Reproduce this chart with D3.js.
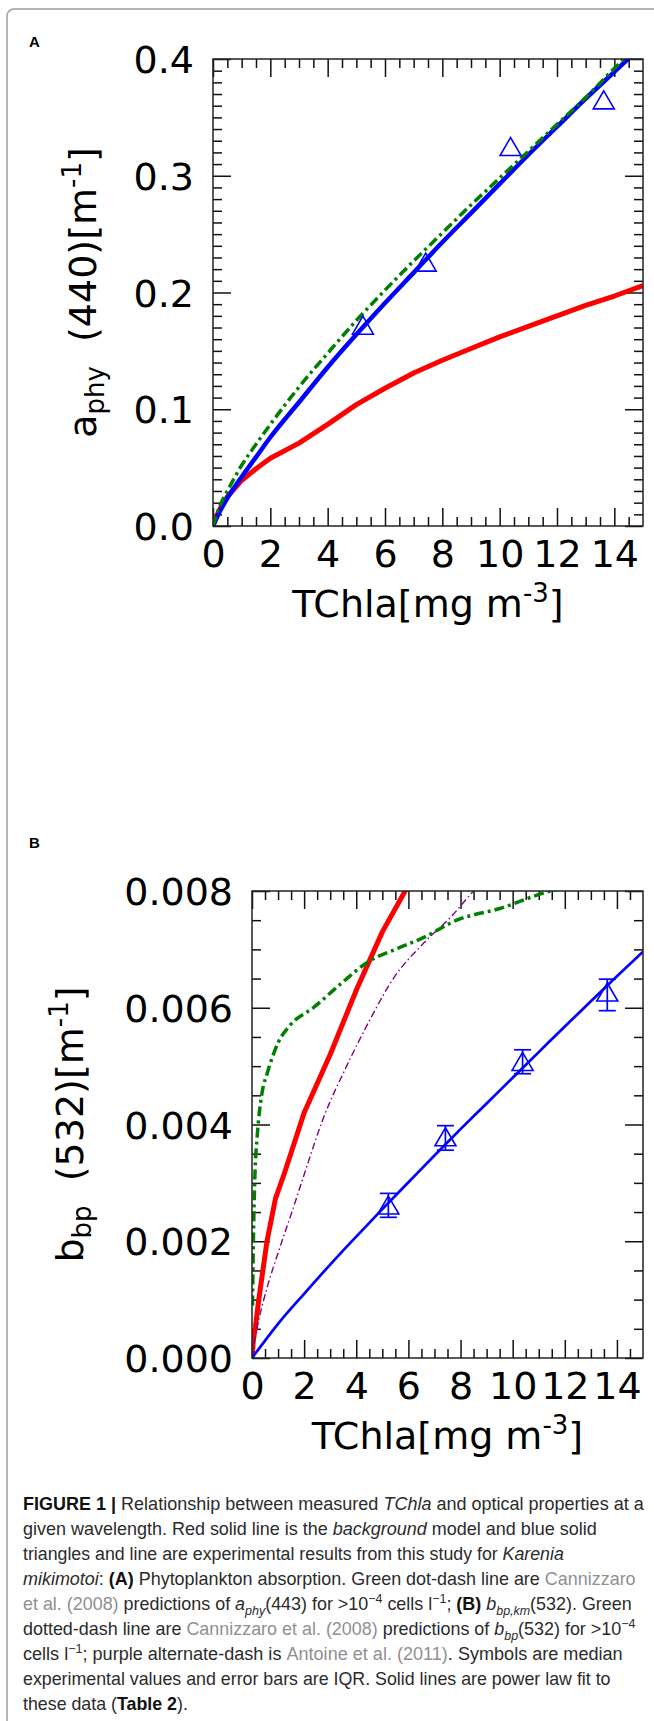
<!DOCTYPE html>
<html>
<head>
<meta charset="utf-8">
<script src="https://cdn.jsdelivr.net/npm/d3@7"></script>
<style>
  body { margin: 0; background: #fff; }
  svg { display: block; }
  text { white-space: pre; }
</style>
</head>
<body>
<svg id="fig" width="654" height="1721"></svg>
<script>
// ---- data ----
const xTickVals = [0, 2, 4, 6, 8, 10, 12, 14];
const aYTickVals = [0.0, 0.1, 0.2, 0.3, 0.4];
const bYTickVals = [0.000, 0.002, 0.004, 0.006, 0.008];

// measured medians (same TChla for both panels)
const obsX = [5.23, 7.42, 10.38, 13.63];
const aObsY = [0.172, 0.226, 0.325, 0.365];
const bObsY = [0.00262, 0.00379, 0.00508, 0.00627];
const bObsLo = [0.00241, 0.00356, 0.00487, 0.00595];
const bObsHi = [0.00282, 0.00398, 0.00528, 0.00649];

// panel A curves
const aFitX = [0, 0.25, 0.5, 1, 1.5, 2, 3, 4, 5, 6, 7, 8, 9, 10, 11, 12, 13, 14, 15];
const aFitY = [0, 0.013, 0.024, 0.042, 0.059, 0.076, 0.106, 0.136, 0.164, 0.191, 0.217, 0.243, 0.268, 0.293, 0.318, 0.342, 0.366, 0.389, 0.412];
const aCanY = [0, 0.018, 0.030, 0.052, 0.070, 0.087, 0.119, 0.148, 0.176, 0.202, 0.227, 0.251, 0.275, 0.298, 0.321, 0.344, 0.367, 0.392, 0.416];
const aBgX = [0, 0.1, 0.25, 0.5, 0.75, 1, 1.5, 2, 3, 4, 5, 6, 7, 8, 9, 10, 11, 12, 13, 14, 15];
const aBgY = [0, 0.007, 0.015, 0.025, 0.032, 0.039, 0.049, 0.058, 0.071, 0.087, 0.104, 0.118, 0.131, 0.142, 0.152, 0.162, 0.171, 0.180, 0.189, 0.197, 0.206];

// panel B curves
const bFitX = [0, 1, 2, 3, 4, 5, 6, 7, 8, 9, 10, 11, 12, 13, 14, 15];
const bFitY = [0, 0.000586, 0.0011, 0.0016, 0.00208, 0.00255, 0.00301, 0.00347, 0.00392, 0.00436, 0.0048, 0.00524, 0.00568, 0.00611, 0.00654, 0.00696];
const bBgX = [0, 0.05, 0.13, 0.26, 0.575, 0.9, 1.24, 2, 3, 4, 5, 6];
const bBgY = [0, 0.0003, 0.00053, 0.001, 0.002, 0.00273, 0.00316, 0.0042, 0.0052, 0.0063, 0.0073, 0.0081];
const bCanX = [0.02, 0.04, 0.07, 0.11, 0.2, 0.37, 0.6, 0.82, 1.0, 1.46, 2.35, 3.38, 4.5, 5.5, 6.57, 7.85, 9.5, 11.45, 12.5];
const bCanY = [0.0009, 0.0016, 0.0024, 0.0031, 0.0038, 0.0045, 0.0049, 0.0052, 0.0054, 0.0057, 0.0060, 0.0064, 0.0068, 0.0070, 0.0072, 0.0075, 0.0077, 0.0080, 0.0081];
const bAntX = [0, 0.1, 0.26, 0.575, 1, 1.53, 1.97, 2.73, 3.63, 4.53, 5.42, 6.57, 7.72, 8.3, 8.7];
const bAntY = [0, 0.0003, 0.00065, 0.0012, 0.0018, 0.0025, 0.0031, 0.0041, 0.0050, 0.0058, 0.0065, 0.0071, 0.0076, 0.0079, 0.0081];

// caption text, one entry per printed line: [text, styles]
const captionLines = [
  [['FIGURE 1 |', 'bold'], [' Relationship between measured '], ['TChla', 'ital'], [' and optical properties at a']],
  [['given wavelength. Red solid line is the '], ['background', 'ital'], [' model and blue solid']],
  [['triangles and line are experimental results from this study for '], ['Karenia', 'ital']],
  [['mikimotoi', 'ital'], [': '], ['(A)', 'bold'], [' Phytoplankton absorption. Green dot-dash line are '], ['Cannizzaro', 'grey']],
  [['et al. (2008)', 'grey'], [' predictions of '], ['a', 'ital'], ['phy', 'ital sub'], ['(443) for >10'], ['\u22124', 'sup'],
   [' cells l'], ['\u22121', 'sup'], ['; '], ['(B)', 'bold'], [' '], ['b', 'ital'], ['bp,km', 'ital sub'], ['(532). Green']],
  [['dotted-dash line are '], ['Cannizzaro et al. (2008)', 'grey'], [' predictions of '], ['b', 'ital'], ['bp', 'ital sub'],
   ['(532) for >10'], ['\u22124', 'sup']],
  [['cells l'], ['\u22121', 'sup'], ['; purple alternate-dash is '], ['Antoine et al. (2011)', 'grey'], ['. Symbols are median']],
  [['experimental values and error bars are IQR. Solid lines are power law fit to']],
  [['these data ('], ['Table 2', 'bold'], [').']]
];

// ---- layout ----
const W = 654, H = 1721;
const FONT = "'DejaVu Sans', sans-serif";
const CAP_FONT = "'Liberation Sans Narrow', 'Liberation Sans', Arial, sans-serif";
const captionWidths = [622, 574, 541, 613, 609, 613, 599, 588, 165];

const svg = d3.select('#fig');
svg.append('rect').attr('width', W).attr('height', H).attr('fill', '#fff');

// figure frame
svg.append('rect')
  .attr('x', 7).attr('y', 9).attr('width', 720).attr('height', 1780).attr('rx', 7)
  .attr('fill', 'none').attr('stroke', '#9c9c9c').attr('stroke-width', 1.5);

function axis(gen, vals, size, fmt, pad, transform) {
  const a = svg.append('g').attr('transform', transform)
    .call(gen.tickValues(vals).tickSize(-size).tickSizeOuter(0).tickPadding(pad).tickFormat(fmt));
  a.select('.domain').remove();
  a.selectAll('line').attr('stroke', '#111').attr('stroke-width', 1.5);
  a.selectAll('text').attr('font-family', FONT).attr('font-size', 38).attr('fill', '#000');
  return a;
}

function drawPanel(cfg) {
  const { left, top, width, height, yMax, yTicks, yFmt, yMinor, id } = cfg;
  const x = d3.scaleLinear().domain([0, 15]).range([left, left + width]);
  const y = d3.scaleLinear().domain([0, yMax]).range([top + height, top]);
  const bottom = top + height, right = left + width;

  svg.append('clipPath').attr('id', 'clip-' + id)
    .append('rect').attr('x', left).attr('y', top).attr('width', width).attr('height', height);

  const xMinor = d3.range(1, 30).filter(i => i % 4).map(i => i * 0.5);
  const none = () => '';

  // x axes (bottom labelled, top mirrored), ticks pointing in
  const xb = axis(d3.axisBottom(x), xTickVals, 18, d3.format('d'), 14, `translate(0,${bottom})`);
  xb.selectAll('text').attr('dy', '0.71em');
  axis(d3.axisBottom(x), xMinor, 9, none, 0, `translate(0,${bottom})`);
  axis(d3.axisTop(x), xTickVals, 18, none, 0, `translate(0,${top})`);
  axis(d3.axisTop(x), xMinor, 9, none, 0, `translate(0,${top})`);

  // y axes
  const yl = axis(d3.axisLeft(y), yTicks, 18, yFmt, 19, `translate(${left},0)`);
  yl.selectAll('text').attr('dy', '0.36em');
  axis(d3.axisLeft(y), yMinor, 9, none, 0, `translate(${left},0)`);
  axis(d3.axisRight(y), yTicks, 18, none, 0, `translate(${right},0)`);
  axis(d3.axisRight(y), yMinor, 9, none, 0, `translate(${right},0)`);

  const plot = svg.append('g').attr('clip-path', `url(#clip-${id})`);

  svg.append('rect')
    .attr('x', left).attr('y', top).attr('width', width).attr('height', height)
    .attr('fill', 'none').attr('stroke', '#222').attr('stroke-width', 1.5);

  // x title
  const xt = svg.append('text')
    .attr('x', (left + right) / 2).attr('y', bottom + 91)
    .attr('text-anchor', 'middle').attr('font-family', FONT).attr('font-size', 38);
  xt.append('tspan').text('TChla[mg m');
  xt.append('tspan').attr('font-size', 26).attr('dy', -15).text('-3');
  xt.append('tspan').attr('dy', 15).text(']');

  return { x, y, plot, left, top };
}

function yTitle(cx, cy, main, sub, unit) {
  const t = svg.append('text')
    .attr('transform', `translate(${cx},${cy}) rotate(-90)`)
    .attr('text-anchor', 'middle').attr('font-family', FONT).attr('font-size', 38);
  t.append('tspan').text(main);
  t.append('tspan').attr('font-size', 26).attr('dy', 8).text(sub);
  t.append('tspan').attr('dy', -8).text('  ' + unit + '[m');
  t.append('tspan').attr('font-size', 26).attr('dy', -15).text('-1');
  t.append('tspan').attr('dy', 15).text(']');
}

function curve(p, xs, ys, color, w, dash, shape) {
  const line = d3.line().x(d => p.x(d[0])).y(d => p.y(d[1])).curve(shape || d3.curveLinear);
  p.plot.append('path')
    .datum(d3.zip(xs, ys))
    .attr('d', line)
    .attr('fill', 'none').attr('stroke', color).attr('stroke-width', w)
    .attr('stroke-dasharray', dash || null)
    .attr('stroke-linejoin', 'round');
}

function triangles(p, xs, ys) {
  svg.append('g').selectAll('path')
    .data(d3.zip(xs, ys))
    .join('path')
    .attr('d', d => {
      const cx = p.x(d[0]), cy = p.y(d[1]);
      return `M${cx},${cy - 9}L${cx + 10.5},${cy + 9}L${cx - 10.5},${cy + 9}Z`;
    })
    .attr('fill', 'none').attr('stroke', '#0000ff').attr('stroke-width', 1.6);
}

// ---- panel A ----
const pa = drawPanel({
  id: 'a', left: 213, top: 59, width: 430, height: 467, yMax: 0.4,
  yTicks: aYTickVals, yFmt: d3.format('.1f'),
  yMinor: d3.range(1, 40).filter(i => i % 10).map(i => i * 0.01)
});
curve(pa, aBgX, aBgY, '#ff0000', 5);
curve(pa, aFitX, aFitY, '#0000ff', 4.5, null, d3.curveMonotoneX);
curve(pa, aFitX, aCanY, '#007f00', 3.5, '10,4,3,4', d3.curveMonotoneX);
triangles(pa, obsX, aObsY);
yTitle(96, 292.5, 'a', 'phy', '(440)');

// ---- panel B ----
const pb = drawPanel({
  id: 'b', left: 252, top: 891, width: 391, height: 467, yMax: 0.008,
  yTicks: bYTickVals, yFmt: d3.format('.3f'),
  yMinor: d3.range(1, 16).filter(i => i % 4).map(i => i * 0.0005)
});
curve(pb, bBgX, bBgY, '#ff0000', 5);
curve(pb, bAntX, bAntY, '#800080', 1.4, '7,3,1.5,3', d3.curveMonotoneX);
curve(pb, bCanX, bCanY, '#007f00', 3.5, '10,4,3,4', d3.curveMonotoneX);
curve(pb, bFitX, bFitY, '#0000ff', 2.7, null, d3.curveMonotoneX);
triangles(pb, obsX, bObsY);
svg.append('g').selectAll('g')
  .data(d3.zip(obsX, bObsLo, bObsHi))
  .join('g')
  .each(function (d) {
    const g = d3.select(this), cx = pb.x(d[0]);
    g.append('line').attr('x1', cx).attr('x2', cx).attr('y1', pb.y(d[1])).attr('y2', pb.y(d[2]));
    g.append('line').attr('x1', cx - 8.5).attr('x2', cx + 8.5).attr('y1', pb.y(d[1])).attr('y2', pb.y(d[1]));
    g.append('line').attr('x1', cx - 8.5).attr('x2', cx + 8.5).attr('y1', pb.y(d[2])).attr('y2', pb.y(d[2]));
  })
  .attr('stroke', '#0000ff').attr('stroke-width', 1.7);
yTitle(83, 1124.5, 'b', 'bp', '(532)');

// panel letters
svg.append('text').attr('x', 29).attr('y', 47).text('A')
  .attr('font-family', "'Liberation Sans', Arial, sans-serif").attr('font-weight', 'bold').attr('font-size', 15);
svg.append('text').attr('x', 29).attr('y', 848).text('B')
  .attr('font-family', "'Liberation Sans', Arial, sans-serif").attr('font-weight', 'bold').attr('font-size', 15);

// ---- caption ----
const capX = 23, capY0 = 1510, capStep = 25;
captionLines.forEach((segs, i) => {
  const t = svg.append('text')
    .attr('x', capX).attr('y', capY0 + i * capStep)
    .attr('font-family', CAP_FONT).attr('font-size', 18).attr('fill', '#2b2b2b');
  let shift = 0;
  segs.forEach(([s, st]) => {
    const tags = (st || '').split(' ');
    const want = tags.includes('sub') ? 5 : tags.includes('sup') ? -7 : 0;
    const ts = t.append('tspan').text(s).attr('dy', want - shift);
    shift = want;
    if (want !== 0) ts.attr('font-size', 12.5);
    if (tags.includes('bold')) ts.attr('font-weight', 'bold').attr('fill', '#111');
    if (tags.includes('ital')) ts.attr('font-style', 'italic');
    if (tags.includes('grey')) ts.attr('fill', '#8f8f8f');
  });
  const bb = t.node().getBBox();
  const sx = captionWidths[i] / bb.width;
  t.attr('transform', `translate(${capX},0) scale(${sx},1) translate(${-capX},0)`);
});
</script>
</body>
</html>
